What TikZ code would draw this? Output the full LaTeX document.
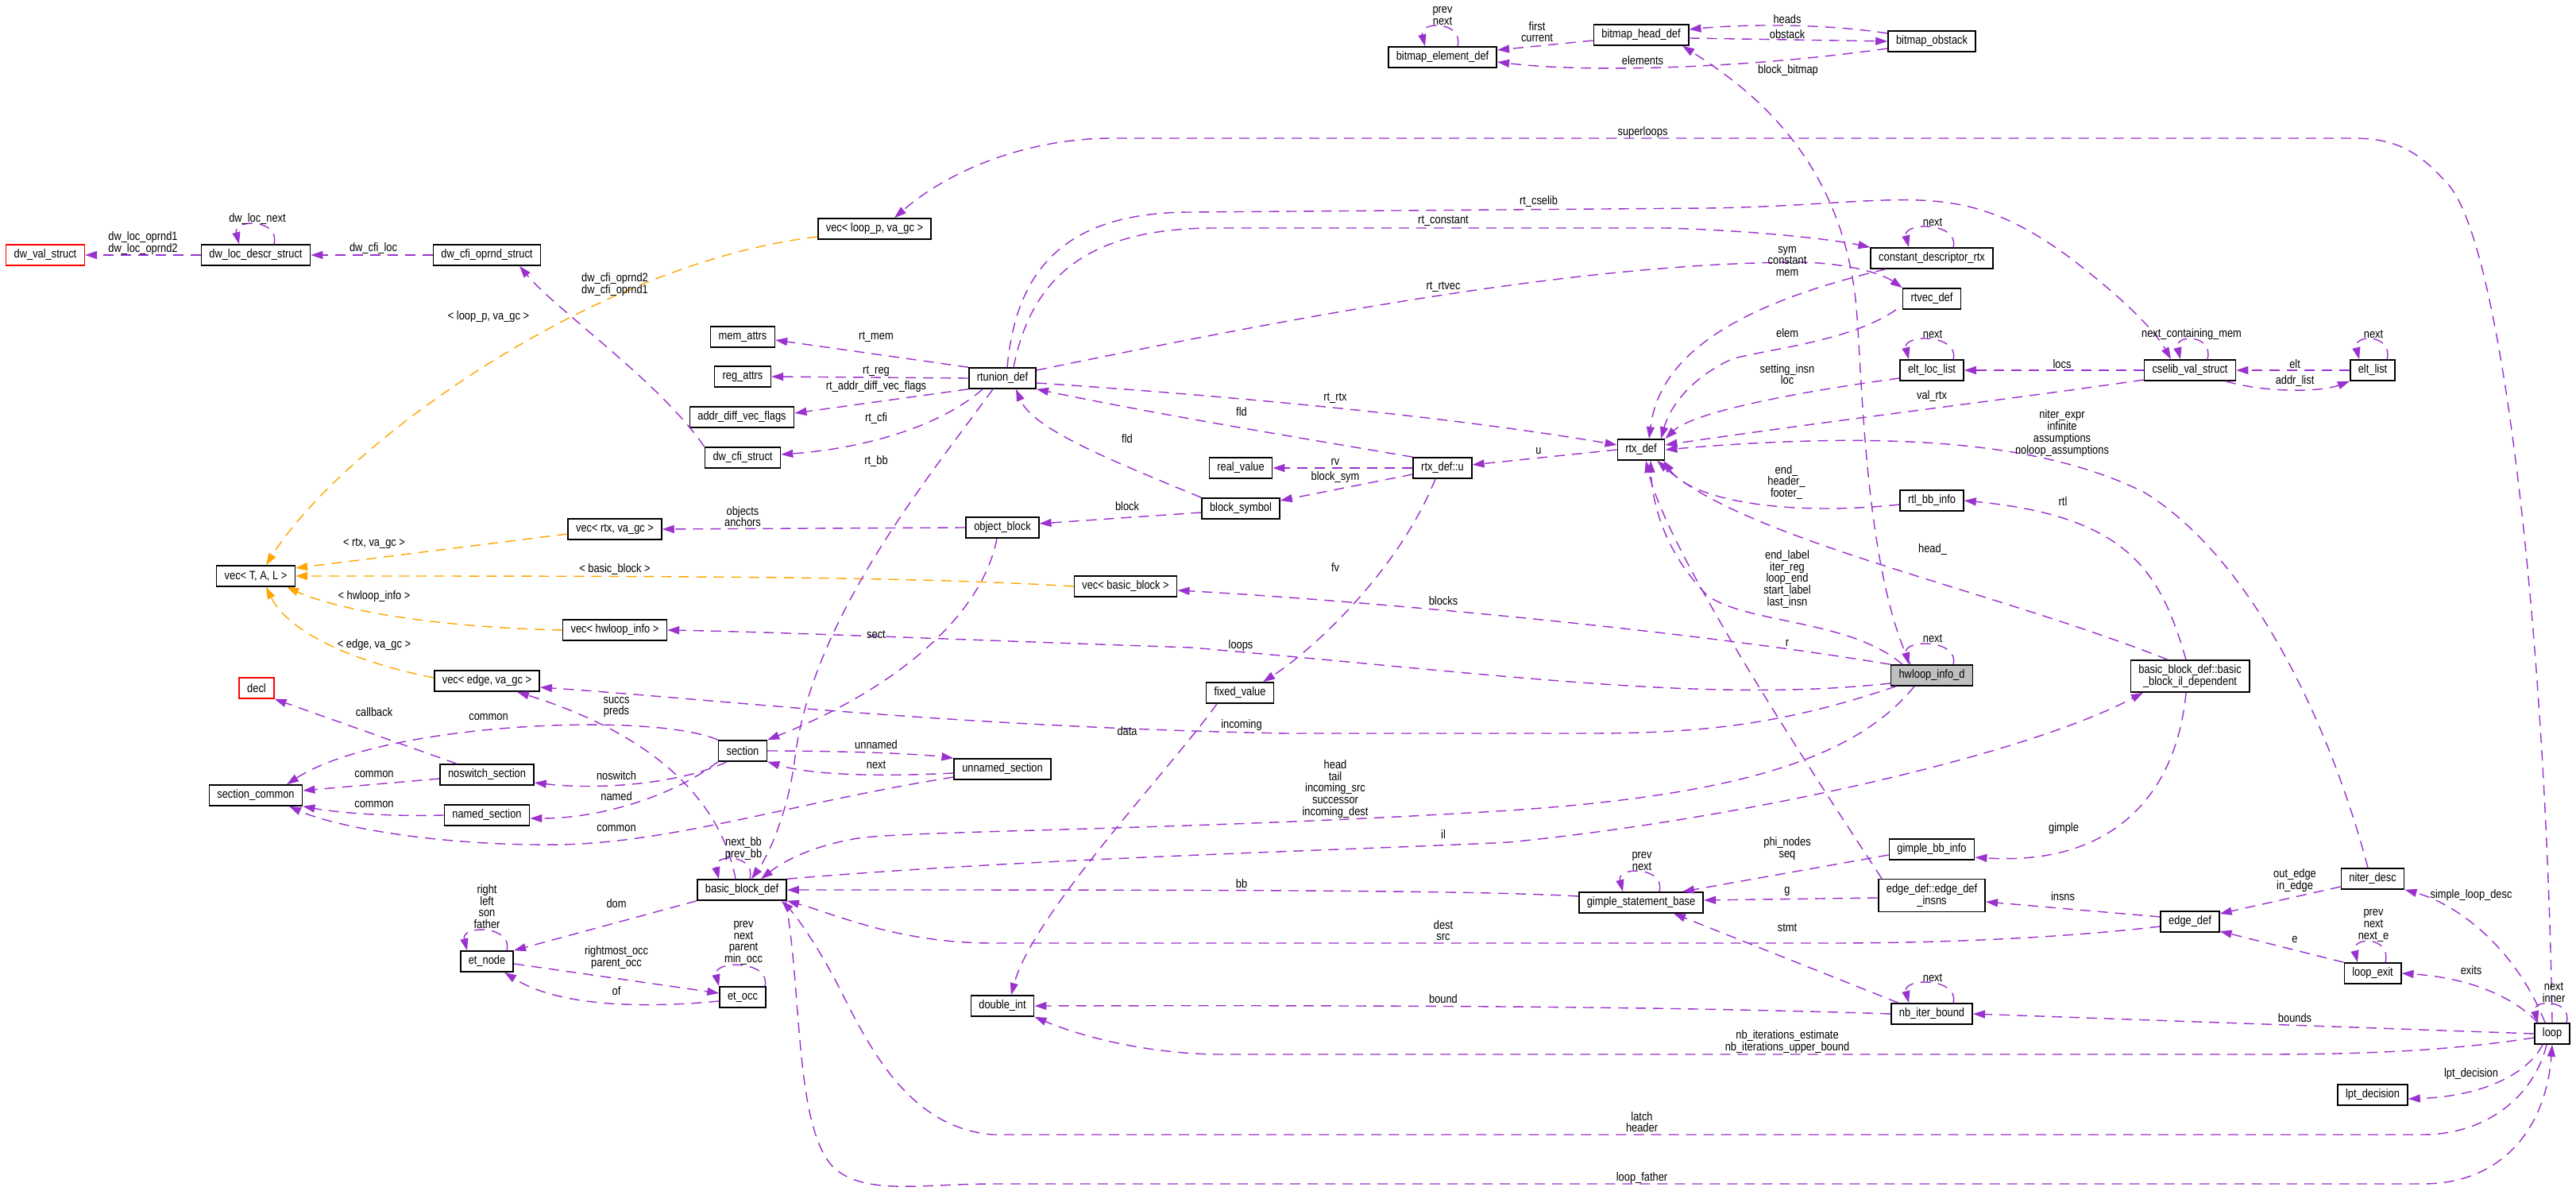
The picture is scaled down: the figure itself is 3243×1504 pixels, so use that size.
\documentclass[tikz,border=0pt]{standalone}
\usepackage{fontspec}
\setmainfont{Liberation Sans}[FakeStretch=0.85]
\usetikzlibrary{arrows.meta,calc}
\definecolor{dxpurple}{HTML}{9A32CD}
\definecolor{dxorange}{HTML}{FFA500}
\definecolor{dxgrey}{HTML}{BFBFBF}
\newcommand\dxfont{\fontsize{4.3pt}{4.2pt}\selectfont}
\tikzset{
  cls/.style    ={rectangle, draw=black, line width=0.45pt, fill=white, font=\dxfont,
                  inner xsep=0.1cm, inner ysep=0pt, minimum height=0.26cm, align=center},
  clsred/.style ={cls, draw=red},
  clsroot/.style={cls, fill=dxgrey},
  dep/.style    ={draw=dxpurple, line width=0.4pt, dash pattern=on 0.13cm off 0.09cm,
                  -{Triangle[length=0.15cm,width=0.1cm]}},
  tmpl/.style   ={dep, draw=dxorange},
  lbl/.style    ={font=\dxfont, align=center, inner sep=0pt}
}
\newcommand\selfloop[4]{\draw[dep] ([xshift=#3]#1.north) .. controls +(0.08cm,#4) and +(-0.08cm,#4) .. ([xshift=#2]#1.north);}

\begin{document}
\begin{tikzpicture}[x=0.01cm,y=-0.01cm]
  \useasboundingbox (0,0) rectangle (3243,1504);

  \node[clsred]  (dwval)     at (57,321)    {dw\_val\_struct};
  \node[cls]     (dwloc)     at (322,321)   {dw\_loc\_descr\_struct};
  \node[cls]     (dwcfiop)   at (613,321)   {dw\_cfi\_oprnd\_struct};
  \node[cls]     (vecloop)   at (1101,288)  {vec< loop\_p, va\_gc >};
  \node[cls]     (memattrs)  at (935,424)   {mem\_attrs};
  \node[cls]     (regattrs)  at (935,474)   {reg\_attrs};
  \node[cls]     (rtunion)   at (1262,476)  {rtunion\_def};
  \node[cls]     (addrdiff)  at (934,525)   {addr\_diff\_vec\_flags};
  \node[cls]     (dwcfi)     at (935,576)   {dw\_cfi\_struct};
  \node[cls]     (bmelem)    at (1816,72)   {bitmap\_element\_def};
  \node[cls]     (bmhead)    at (2066,44)   {bitmap\_head\_def};
  \node[cls]     (bmobst)    at (2432,52)   {bitmap\_obstack};
  \node[cls]     (constdesc) at (2432,325)  {constant\_descriptor\_rtx};
  \node[cls]     (rtvec)     at (2432,376)  {rtvec\_def};
  \node[cls]     (eltloc)    at (2432,466)  {elt\_loc\_list};
  \node[cls]     (cselib)    at (2757,466)  {cselib\_val\_struct};
  \node[cls]     (eltlist)   at (2987,466)  {elt\_list};
  \node[cls]     (rtx)       at (2066,566)  {rtx\_def};
  \node[cls]     (rtxu)      at (1816,589)  {rtx\_def::u};
  \node[cls]     (realval)   at (1562,589)  {real\_value};
  \node[cls]     (blocksym)  at (1562,640)  {block\_symbol};
  \node[cls]     (objblock)  at (1262,664)  {object\_block};
  \node[cls]     (vecrtx)    at (774,666)   {vec< rtx, va\_gc >};
  \node[cls]     (vectal)    at (322,725)   {vec< T, A, L >};
  \node[cls]     (vecbb)     at (1417,738)  {vec< basic\_block >};
  \node[cls]     (rtlbb)     at (2432,630)  {rtl\_bb\_info};
  \node[cls]     (vechw)     at (774,793)   {vec< hwloop\_info >};
  \node[clsroot] (hwloop)    at (2432,850)  {hwloop\_info\_d};
  \node[cls, minimum height=0.4cm] (bbil) at (2757,851) {basic\_block\_def::basic\\\_block\_il\_dependent};
  \node[cls]     (vecedge)   at (613,857)   {vec< edge, va\_gc >};
  \node[clsred]  (decl)      at (323,866)   {decl};
  \node[cls]     (fixedval)  at (1561,872)  {fixed\_value};
  \node[cls]     (section)   at (935,945)   {section};
  \node[cls]     (unnamed)   at (1262,968)  {unnamed\_section};
  \node[cls]     (noswitch)  at (613,975)   {noswitch\_section};
  \node[cls]     (seccommon) at (322,1001)  {section\_common};
  \node[cls]     (named)     at (613,1026)  {named\_section};
  \node[cls]     (gimplebb)  at (2432,1069) {gimple\_bb\_info};
  \node[cls]     (niter)     at (2987,1106) {niter\_desc};
  \node[cls]     (bbdef)     at (934,1120)  {basic\_block\_def};
  \node[cls, minimum height=0.41cm] (edgeinsns) at (2432,1127) {edge\_def::edge\_def\\\_insns};
  \node[cls]     (gimplesb)  at (2066,1136) {gimple\_statement\_base};
  \node[cls]     (edgedef)   at (2757,1160) {edge\_def};
  \node[cls]     (etnode)    at (613,1210)  {et\_node};
  \node[cls]     (loopexit)  at (2987,1225) {loop\_exit};
  \node[cls]     (etocc)     at (935,1255)  {et\_occ};
  \node[cls]     (dblint)    at (1262,1266) {double\_int};
  \node[cls]     (nbiter)    at (2432,1276) {nb\_iter\_bound};
  \node[cls]     (loopd)     at (3213,1301) {loop};
  \node[cls]     (lpt)       at (2987,1378) {lpt\_decision};

  \selfloop{bmelem}{-0.22cm}{0.19cm}{0.32cm}
  \draw[dep] ([yshift=-0.07cm]bmhead.west) -- ([yshift=0.09cm]bmelem.east);
  \draw[dep] ([yshift=0.1cm]bmobst.west) .. controls (2300,30) and (2200,30) .. ([yshift=0.07cm]bmhead.east);
  \draw[dep] ([yshift=-0.04cm]bmhead.east) -- (bmobst.west);
  \draw[dep] ([yshift=-0.09cm]bmobst.west) .. controls (2200,86) and (2000,92) .. ([yshift=-0.06cm]bmelem.east);
  \draw[dep] ([xshift=-0.27cm]hwloop.north) .. controls (2350,720) and (2345,500) .. (2338,400)
        .. controls (2325,200) and (2200,110) .. ([xshift=0.52cm]bmhead.south);

  \draw[dep] (dwloc.west) -- (dwval.east);
  \selfloop{dwloc}{-0.21cm}{0.23cm}{0.32cm}
  \draw[dep] (dwcfiop.west) -- (dwloc.east);
  \draw[dep] (dwcfi.north west) .. controls (830,480) and (700,390) .. ([xshift=0.41cm]dwcfiop.south);

  \draw[tmpl] ([yshift=-0.1cm]vecloop.west) .. controls (750,330) and (430,560) .. ([xshift=0.13cm]vectal.north);
  \draw[tmpl] ([yshift=-0.06cm]vecrtx.west) -- ([yshift=0.1cm]vectal.east);
  \draw[tmpl] (vecbb.west) .. controls (1150,725) and (800,725) .. (vectal.east);
  \draw[tmpl] (vechw.west) .. controls (560,790) and (430,770) .. ([xshift=0.39cm]vectal.south);
  \draw[tmpl] ([yshift=0.04cm]vecedge.west) .. controls (430,830) and (360,790) .. ([xshift=0.13cm]vectal.south);

  \draw[dep] (rtunion.north west) -- ([yshift=-0.04cm]memattrs.east);
  \draw[dep] (rtunion.west) -- (regattrs.east);
  \draw[dep] (rtunion.south west) -- ([yshift=0.05cm]addrdiff.east);
  \draw[dep] ([xshift=-0.25cm]rtunion.south) .. controls (1180,540) and (1080,565) .. ([yshift=0.04cm]dwcfi.east);
  \draw[dep] ([xshift=-0.12cm]rtunion.south) .. controls (1170,600) and (1020,780) .. (1000,960)
        .. controls (990,1030) and (965,1080) .. ([xshift=0.12cm]bbdef.north);
  \draw[dep] ([yshift=-0.06cm]rtunion.east) .. controls (1500,495) and (1800,520) .. ([yshift=0.06cm]rtx.west);
  \draw[dep] ([yshift=0.1cm]rtunion.east) .. controls (1650,395) and (2000,330) .. (2270,330)
        .. controls (2330,332) and (2370,345) .. (rtvec.north west);
  \draw[dep] ([xshift=0.14cm]rtunion.north) .. controls (1300,340) and (1380,287) .. (1530,287) -- (2097,287)
        .. controls (2200,290) and (2300,300) .. (constdesc.north west);
  \draw[dep] ([xshift=0.06cm]rtunion.north) .. controls (1280,330) and (1350,267) .. (1500,267) -- (2150,262)
        .. controls (2400,258) and (2460,220) .. (2600,320) .. controls (2680,380) and (2715,420) .. ([xshift=-0.24cm]cselib.north);

  \selfloop{constdesc}{-0.29cm}{0.27cm}{0.32cm}
  \draw[dep] ([xshift=-0.58cm]constdesc.south) .. controls (2200,380) and (2090,440) .. ([xshift=0.1cm]rtx.north);
  \draw[dep] ([xshift=-0.45cm]rtvec.south) .. controls (2330,430) and (2220,440) .. (2180,452)
        .. controls (2120,480) and (2100,520) .. ([xshift=0.25cm]rtx.north);
  \selfloop{eltloc}{-0.29cm}{0.27cm}{0.32cm}
  \draw[dep] ([yshift=-0.1cm]eltloc.west) .. controls (2250,495) and (2130,520) .. (rtx.north east);
  \draw[dep] (cselib.west) -- (eltloc.east);
  \selfloop{cselib}{-0.12cm}{0.22cm}{0.32cm}
  \draw[dep] (eltlist.west) -- (cselib.east);
  \draw[dep] ([xshift=0.45cm]cselib.south) .. controls (2850,494) and (2920,494) .. (eltlist.south west);
  \selfloop{eltlist}{-0.17cm}{0.18cm}{0.32cm}
  \draw[dep] ([yshift=-0.12cm]cselib.west) .. controls (2550,500) and (2300,530) .. ([yshift=0.06cm]rtx.east);
  \draw[dep] ([xshift=-0.06cm]niter.north) .. controls (2930,900) and (2830,700) .. (2700,620)
        .. controls (2580,560) and (2400,540) .. (rtx.east);
  \draw[dep] ([yshift=-0.05cm]rtlbb.west) .. controls (2250,650) and (2130,630) .. ([xshift=0.28cm]rtx.south);
  \draw[dep] ([xshift=-0.28cm]bbil.north) .. controls (2500,740) and (2200,680) .. ([xshift=0.2cm]rtx.south);
  \draw[dep] ([xshift=-0.37cm]hwloop.north) .. controls (2330,780) and (2200,785) .. (2150,750)
        .. controls (2100,700) and (2080,640) .. ([xshift=0.12cm]rtx.south);
  \draw[dep] ([xshift=-0.63cm]edgeinsns.north) .. controls (2300,1000) and (2100,700) .. ([xshift=0.06cm]rtx.south);
  \draw[dep] ([xshift=-0.05cm]bbil.north) .. controls (2720,720) and (2680,650) .. (rtlbb.east);

  \draw[dep] (rtx.west) -- ([yshift=0.04cm]rtxu.east);
  \draw[dep] (rtxu.north west) .. controls (1600,545) and (1450,520) .. (rtunion.south east);
  \draw[dep] (rtxu.west) -- (realval.east);
  \draw[dep] ([yshift=-0.08cm]rtxu.west) -- ([yshift=0.1cm]blocksym.east);
  \draw[dep] ([xshift=-0.09cm]rtxu.south) .. controls (1760,720) and (1650,820) .. ([xshift=0.29cm]fixedval.north);
  \draw[dep] (blocksym.north west) .. controls (1400,580) and (1300,540) .. ([xshift=0.17cm]rtunion.south);
  \draw[dep] ([yshift=-0.05cm]blocksym.west) -- ([yshift=0.05cm]objblock.east);
  \draw[dep] (objblock.west) -- (vecrtx.east);
  \draw[dep] ([xshift=-0.07cm]objblock.south) .. controls (1235,780) and (1120,870) .. (section.north east);
  \draw[dep] ([xshift=-0.29cm]fixedval.south) .. controls (1480,960) and (1300,1150) .. ([xshift=0.11cm]dblint.north);

  \selfloop{hwloop}{-0.29cm}{0.27cm}{0.32cm}
  \draw[dep] (hwloop.north west) .. controls (2100,790) and (1700,755) .. ([yshift=-0.05cm]vecbb.east);
  \draw[dep] ([yshift=-0.1cm]hwloop.west) .. controls (2150,885) and (1900,850) .. (1500,815)
        .. controls (1200,805) and (1000,796) .. (vechw.east);
  \draw[dep] ([xshift=-0.45cm]hwloop.south) .. controls (2250,910) and (2150,923) .. (2000,923) -- (1620,923)
        .. controls (1200,915) and (900,880) .. ([yshift=-0.08cm]vecedge.east);
  \draw[dep] ([xshift=-0.22cm]hwloop.south) .. controls (2340,950) and (2200,1000) .. (1900,1020)
        .. controls (1500,1045) and (1150,1045) .. (1080,1055) .. controls (1020,1065) and (985,1085) .. ([xshift=0.24cm]bbdef.north);
  \draw[dep] (bbdef.north east) .. controls (1300,1080) and (1700,1070) .. (1900,1060)
        .. controls (2200,1030) and (2550,950) .. ([xshift=-0.59cm]bbil.south);

  \draw[dep] ([yshift=0.08cm]gimplesb.west) .. controls (1850,1120) and (1500,1120) .. (bbdef.east);
  \selfloop{gimplesb}{-0.23cm}{0.23cm}{0.32cm}
  \draw[dep] ([yshift=-0.07cm]gimplebb.west) -- ([xshift=0.52cm]gimplesb.north);
  \draw[dep] ([yshift=-0.03cm]edgeinsns.west) -- ([yshift=0.03cm]gimplesb.east);
  \draw[dep] ([xshift=-0.42cm]nbiter.north) -- ([xshift=0.41cm]gimplesb.south);
  \selfloop{nbiter}{-0.29cm}{0.27cm}{0.32cm}
  \draw[dep] (nbiter.west) .. controls (2100,1267) and (1800,1265) .. (dblint.east);
  \draw[dep] ([xshift=-0.05cm]bbil.south) .. controls (2740,1000) and (2660,1090) .. ([yshift=-0.1cm]gimplebb.east);

  \draw[dep] ([yshift=0.06cm]edgedef.west) -- ([yshift=-0.08cm]edgeinsns.east);
  \draw[dep] ([yshift=-0.06cm]edgedef.west) .. controls (2600,1180) and (2450,1187) .. (2300,1187) -- (1250,1187)
        .. controls (1130,1187) and (1050,1150) .. (bbdef.south east);
  \draw[dep] ([yshift=-0.1cm]niter.west) -- ([yshift=0.1cm]edgedef.east);
  \draw[dep] (loopexit.north west) -- ([yshift=-0.12cm]edgedef.east);
  \selfloop{loopexit}{-0.19cm}{0.16cm}{0.33cm}

  \selfloop{loopd}{-0.18cm}{0.18cm}{0.3cm}
  \draw[dep] ([xshift=-0.18cm]loopd.north) .. controls (3160,1250) and (3100,1230) .. (loopexit.east);
  \draw[dep] ([xshift=-0.09cm]loopd.north) .. controls (3170,1200) and (3100,1140) .. (niter.south east);
  \draw[dep] (loopd.north) .. controls (3205,800) and (3150,300) .. (3080,230) .. controls (3040,185) and (3010,174) .. (2960,174)
        -- (1400,174) .. controls (1300,174) and (1200,210) .. ([xshift=0.25cm]vecloop.north);
  \draw[dep] (loopd.west) -- (nbiter.east);
  \draw[dep] ([xshift=-0.12cm]loopd.south) .. controls (3180,1355) and (3120,1380) .. ([yshift=-0.05cm]lpt.east);
  \draw[dep] ([xshift=-0.07cm]loopd.south) .. controls (3190,1380) and (3130,1428) .. (3050,1428) -- (1250,1428)
        .. controls (1150,1420) and (1100,1330) .. (1060,1250) .. controls (1030,1190) and (1000,1150) .. ([xshift=0.5cm]bbdef.south);
  \draw[dep] ([xshift=0.55cm]bbdef.south) .. controls (1010,1250) and (1000,1420) .. (1050,1470)
        .. controls (1090,1505) and (1160,1490) .. (1250,1490) -- (3050,1490) .. controls (3150,1490) and (3205,1420) .. (loopd.south);
  \draw[dep] ([yshift=-0.05cm]loopd.west) .. controls (3100,1320) and (3000,1327) .. (2850,1327) -- (1530,1327)
        .. controls (1430,1325) and (1350,1300) .. (dblint.south east);

  \selfloop{bbdef}{-0.29cm}{0.1cm}{0.32cm}
  \draw[dep] ([xshift=-0.08cm]bbdef.north) .. controls (910,1020) and (840,930) .. ([xshift=0.38cm]vecedge.south);
  \draw[dep] (bbdef.south west) -- (etnode.north east);
  \selfloop{etnode}{-0.25cm}{0.25cm}{0.32cm}
  \draw[dep] ([yshift=-0.03cm]etnode.east) -- ([yshift=0.05cm]etocc.west);
  \draw[dep] ([yshift=-0.05cm]etocc.west) .. controls (800,1270) and (700,1265) .. ([xshift=0.22cm]etnode.south);
  \selfloop{etocc}{-0.3cm}{0.28cm}{0.33cm}

  \draw[dep] (section.north west) .. controls (820,895) and (480,910) .. ([xshift=0.39cm]seccommon.north);
  \draw[dep] (section.east) .. controls (1050,945) and (1150,948) .. (unnamed.north west);
  \draw[dep] ([yshift=-0.05cm]unnamed.west) .. controls (1100,978) and (1020,975) .. (section.south east);
  \draw[dep] ([xshift=-0.2cm]section.south) .. controls (860,985) and (760,995) .. ([yshift=-0.1cm]noswitch.east);
  \draw[dep] (section.south west) .. controls (850,1000) and (760,1030) .. ([yshift=-0.04cm]named.east);
  \draw[dep] ([yshift=-0.05cm]noswitch.west) -- ([yshift=0.06cm]seccommon.east);
  \draw[dep] (named.west) .. controls (480,1028) and (420,1022) .. (seccommon.south east);
  \draw[dep] ([yshift=-0.1cm]unnamed.west) .. controls (1000,1010) and (850,1060) .. (706,1063)
        .. controls (550,1065) and (420,1040) .. ([xshift=0.42cm]seccommon.south);
  \draw[dep] ([xshift=-0.38cm]noswitch.north) -- (decl.south east);

  \node[lbl] at (180,306)  {dw\_loc\_oprnd1\\dw\_loc\_oprnd2};
  \node[lbl] at (324,276)  {dw\_loc\_next};
  \node[lbl] at (470,313)  {dw\_cfi\_loc};
  \node[lbl] at (774,358)  {dw\_cfi\_oprnd2\\dw\_cfi\_oprnd1};
  \node[lbl] at (615,399)  {< loop\_p, va\_gc >};
  \node[lbl] at (2068,167) {superloops};
  \node[lbl] at (1937,254) {rt\_cselib};
  \node[lbl] at (1817,278) {rt\_constant};
  \node[lbl] at (1817,361) {rt\_rtvec};
  \node[lbl] at (1103,424) {rt\_mem};
  \node[lbl] at (1103,467) {rt\_reg};
  \node[lbl] at (1103,487) {rt\_addr\_diff\_vec\_flags};
  \node[lbl] at (1681,501) {rt\_rtx};
  \node[lbl] at (1816,20)  {prev\\next};
  \node[lbl] at (1935,40)  {first\\current};
  \node[lbl] at (2250,24)  {heads};
  \node[lbl] at (2250,43)  {obstack};
  \node[lbl] at (2068,76)  {elements};
  \node[lbl] at (2251,89)  {block\_bitmap};
  \node[lbl] at (2433,280) {next};
  \node[lbl] at (2250,329) {sym\\constant\\mem};
  \node[lbl] at (2250,419) {elem};
  \node[lbl] at (2250,471) {setting\_insn\\loc};
  \node[lbl] at (2433,421) {next};
  \node[lbl] at (2759,421) {next\_containing\_mem};
  \node[lbl] at (2988,421) {next};
  \node[lbl] at (2596,458) {locs};
  \node[lbl] at (2889,458) {elt};
  \node[lbl] at (2889,480) {addr\_list};
  \node[lbl] at (2432,499) {val\_rtx};
  \node[lbl] at (2596,545) {niter\_expr\\infinite\\assumptions\\noloop\_assumptions};
  \node[lbl] at (2597,631) {rtl};
  \node[lbl] at (2433,692) {head\_};
  \node[lbl] at (2433,804) {next};
  \node[lbl] at (1937,568) {u};
  \node[lbl] at (1681,581) {rv};
  \node[lbl] at (1681,601) {block\_sym};
  \node[lbl] at (1681,714) {fv};
  \node[lbl] at (1817,756) {blocks};
  \node[lbl] at (2249,607) {end\_\\header\_\\footer\_};
  \node[lbl] at (2250,729) {end\_label\\iter\_reg\\loop\_end\\start\_label\\last\_insn};
  \node[lbl] at (2250,809) {r};
  \node[lbl] at (1681,993) {head\\tail\\incoming\_src\\successor\\incoming\_dest};
  \node[lbl] at (471,684)  {< rtx, va\_gc >};
  \node[lbl] at (774,717)  {< basic\_block >};
  \node[lbl] at (471,751)  {< hwloop\_info >};
  \node[lbl] at (471,812)  {< edge, va\_gc >};
  \node[lbl] at (471,896)  {callback};
  \node[lbl] at (615,903)  {common};
  \node[lbl] at (776,890)  {succs\\preds};
  \node[lbl] at (471,975)  {common};
  \node[lbl] at (776,976)  {noswitch};
  \node[lbl] at (776,1002) {named};
  \node[lbl] at (471,1013) {common};
  \node[lbl] at (776,1043) {common};
  \node[lbl] at (1103,527) {rt\_cfi};
  \node[lbl] at (1103,581) {rt\_bb};
  \node[lbl] at (935,650)  {objects\\anchors};
  \node[lbl] at (1419,637) {block};
  \node[lbl] at (1563,518) {fld};
  \node[lbl] at (1419,552) {fld};
  \node[lbl] at (1103,799) {sect};
  \node[lbl] at (1562,813) {loops};
  \node[lbl] at (1419,920) {data};
  \node[lbl] at (1563,913) {incoming};
  \node[lbl] at (1103,937) {unnamed};
  \node[lbl] at (1103,963) {next};
  \node[lbl] at (613,1141) {right\\left\\son\\father};
  \node[lbl] at (776,1137) {dom};
  \node[lbl] at (776,1205) {rightmost\_occ\\parent\_occ};
  \node[lbl] at (776,1247) {of};
  \node[lbl] at (936,1068) {next\_bb\\prev\_bb};
  \node[lbl] at (936,1187) {prev\\next\\parent\\min\_occ};
  \node[lbl] at (1563,1112) {bb};
  \node[lbl] at (1817,1050) {il};
  \node[lbl] at (2067,1084) {prev\\next};
  \node[lbl] at (2250,1068) {phi\_nodes\\seq};
  \node[lbl] at (2250,1122) {g};
  \node[lbl] at (1817,1171) {dest\\src};
  \node[lbl] at (2250,1168) {stmt};
  \node[lbl] at (1817,1257) {bound};
  \node[lbl] at (2250,1311) {nb\_iterations\_estimate\\nb\_iterations\_upper\_bound};
  \node[lbl] at (2067,1412) {latch\\header};
  \node[lbl] at (2067,1483) {loop\_father};
  \node[lbl] at (2598,1043) {gimple};
  \node[lbl] at (2597,1128) {insns};
  \node[lbl] at (2889,1108) {out\_edge\\in\_edge};
  \node[lbl] at (3111,1127) {simple\_loop\_desc};
  \node[lbl] at (2988,1165) {prev\\next\\next\_e};
  \node[lbl] at (2889,1183) {e};
  \node[lbl] at (3111,1221) {exits};
  \node[lbl] at (3215,1249) {next\\inner};
  \node[lbl] at (2433,1231) {next};
  \node[lbl] at (2889,1281) {bounds};
  \node[lbl] at (3111,1352) {lpt\_decision};
\end{tikzpicture}
\end{document}
